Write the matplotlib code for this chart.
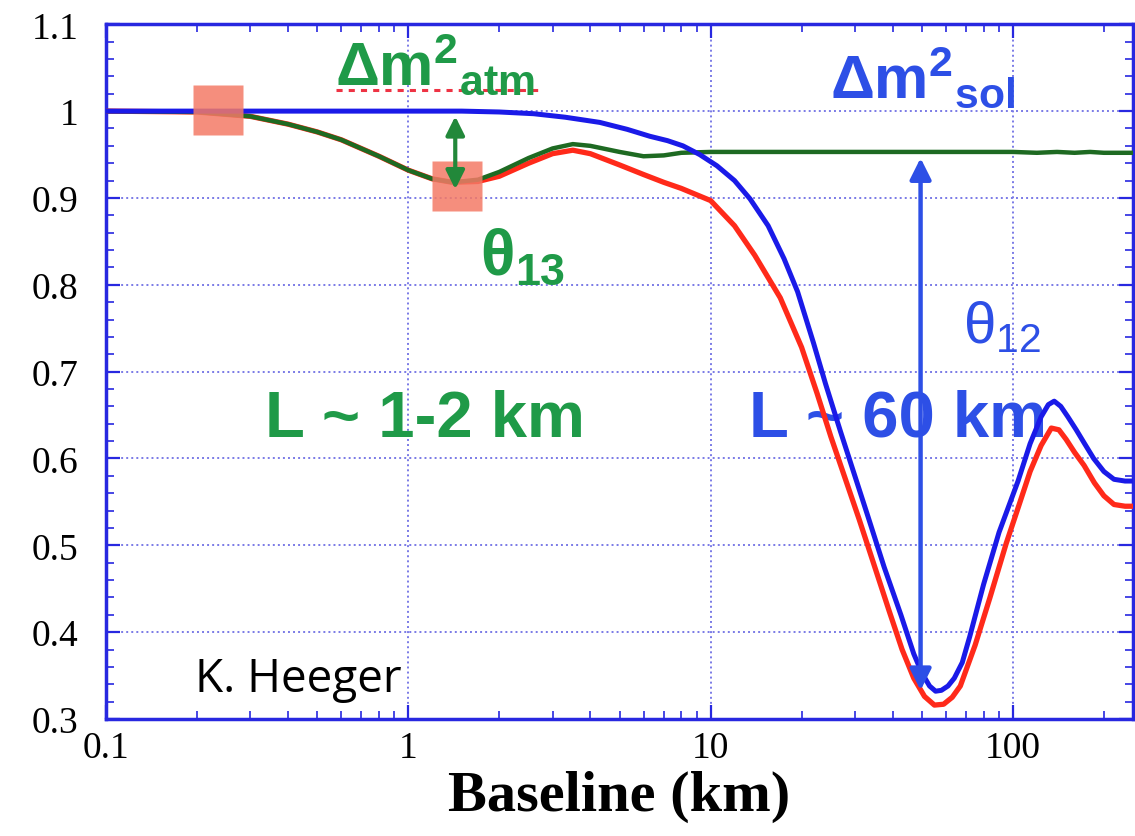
import matplotlib
matplotlib.use('Agg')
import matplotlib.pyplot as plt
from matplotlib.ticker import FixedLocator, LogLocator, NullFormatter, FixedFormatter

# survival probability curves
blue_km = [0.1, 0.5, 1.0, 1.5, 2.0, 2.6, 3.3, 4.3, 5.3, 6.3, 7.2, 8.1, 9.2, 10.5, 12.0,
           13.5, 15.5, 17.5, 19.4, 21.9, 24.0, 26.9, 30.0, 33.1, 37.5, 42.6, 47.0, 50.0,
           53.0, 55.5, 58.0, 61.0, 64.0, 68.0, 72.0, 80.0, 90.0, 104.0, 114.0, 124.0,
           131.0, 137.0, 144.0, 152.0, 162.0, 172.0, 185.0, 200.0, 216.0, 235.0, 250.0]
blue_p = [1.0, 1.0, 1.0, 1.0, 0.999, 0.997, 0.993, 0.987, 0.979, 0.971, 0.966, 0.96, 0.95,
          0.937, 0.92, 0.899, 0.868, 0.83, 0.792, 0.733, 0.686, 0.631, 0.58, 0.534, 0.475,
          0.42, 0.375, 0.353, 0.338, 0.332, 0.333, 0.338, 0.347, 0.365, 0.395, 0.455, 0.515,
          0.574, 0.617, 0.648, 0.662, 0.666, 0.66, 0.648, 0.633, 0.618, 0.6, 0.585, 0.576,
          0.574, 0.574]

red_km = [0.1, 0.2, 0.3, 0.4, 0.5, 0.6, 0.8, 1.0, 1.2, 1.4, 1.7, 2.0, 2.5, 3.0, 3.5, 4.0,
          5.0, 6.0, 7.0, 8.0, 10.0, 12.0, 14.0, 17.0, 20.0, 22.5, 25.0, 28.0, 31.0, 35.0,
          39.0, 43.0, 47.0, 51.0, 55.0, 59.0, 63.0, 67.0, 75.0, 84.0, 95.0, 104.0, 114.0,
          124.0, 134.0, 142.0, 150.0, 160.0, 172.0, 186.0, 200.0, 216.0, 235.0, 250.0]
red_p = [1.0, 0.999, 0.994, 0.985, 0.976, 0.967, 0.948, 0.932, 0.922, 0.918, 0.919, 0.925,
         0.94, 0.951, 0.955, 0.951, 0.938, 0.927, 0.918, 0.911, 0.897, 0.868, 0.834, 0.785,
         0.728, 0.675, 0.625, 0.575, 0.53, 0.474, 0.424, 0.38, 0.347, 0.326, 0.316, 0.317,
         0.325, 0.338, 0.385, 0.44, 0.502, 0.543, 0.585, 0.615, 0.635, 0.633, 0.622, 0.607,
         0.592, 0.572, 0.557, 0.547, 0.545, 0.545]

green_km = [0.1, 0.2, 0.3, 0.4, 0.5, 0.6, 0.8, 1.0, 1.2, 1.4, 1.7, 2.0, 2.5, 3.0, 3.5, 4.0,
            5.0, 6.0, 7.0, 8.0, 10.0, 15.0, 20.0, 30.0, 40.0, 50.0, 60.0, 70.0, 80.0,
            100.0, 120.0, 140.0, 160.0, 180.0, 200.0, 225.0, 250.0]
green_p = [1.0, 0.999, 0.994, 0.985, 0.976, 0.967, 0.948, 0.932, 0.922, 0.918, 0.921, 0.93,
           0.946, 0.957, 0.962, 0.96, 0.953, 0.948, 0.949, 0.952, 0.953, 0.953, 0.953,
           0.953, 0.953, 0.953, 0.953, 0.953, 0.953, 0.953, 0.952, 0.953, 0.952, 0.953,
           0.952, 0.952, 0.952]

y_ticks = [0.3, 0.4, 0.5, 0.6, 0.7, 0.8, 0.9, 1.0, 1.1]
y_labels = ['0.3', '0.4', '0.5', '0.6', '0.7', '0.8', '0.9', '1', '1.1']
x_ticks = [0.1, 1, 10, 100]
x_labels = ['0.1', '1', '10', '100']

# highlight squares and arrows
square_km = [0.235, 1.45]
square_p = [1.001, 0.914]
atm_arrow_km, atm_arrow_top, atm_arrow_bot = 1.43, 0.994, 0.910
sol_arrow_km, sol_arrow_top, sol_arrow_bot = 49.5, 0.946, 0.333

GREEN_TXT = '#1f9a48'
GREEN_LINE = '#1e6a22'
BLUE_LINE = '#1a1ae8'
BLUE_TXT = '#2d4fe6'
RED = '#ff2a1a'
AXIS_BLUE = '#2828e0'

plt.rcParams['mathtext.fontset'] = 'custom'
plt.rcParams['mathtext.rm'] = 'Liberation Sans'
plt.rcParams['mathtext.bf'] = 'Liberation Sans:bold'
plt.rcParams['mathtext.it'] = 'Liberation Sans:italic'

fig = plt.figure(figsize=(11.35, 8.37), dpi=100)
ax = fig.add_axes([0.0934, 0.1398, 0.905, 0.830])

ax.plot(red_km, red_p, color=RED, lw=3.8, zorder=3)
ax.plot(green_km, green_p, color=GREEN_LINE, lw=3.2, zorder=4)
ax.plot(blue_km, blue_p, color=BLUE_LINE, lw=3.6, zorder=5)

ax.set_xscale('log')
ax.set_xlim(0.1, 250)
ax.set_ylim(0.3, 1.1)

ax.xaxis.set_major_locator(FixedLocator(x_ticks))
ax.xaxis.set_major_formatter(FixedFormatter(x_labels))
ax.xaxis.set_minor_locator(LogLocator(base=10, subs=range(2, 10)))
ax.xaxis.set_minor_formatter(NullFormatter())
ax.yaxis.set_major_locator(FixedLocator(y_ticks))
ax.yaxis.set_major_formatter(FixedFormatter(y_labels))
ax.yaxis.set_minor_locator(FixedLocator([0.3 + 0.02 * i for i in range(41)]))

ax.tick_params(which='both', direction='in', colors=AXIS_BLUE, top=True, right=True,
               labelcolor='black', labelsize=27, labelfontfamily='Liberation Serif')
ax.tick_params(which='major', length=10, width=1.6)
ax.tick_params(which='minor', length=6, width=1.2)
ax.tick_params(axis='y', pad=20)
ax.tick_params(axis='x', pad=8)

for sp in ax.spines.values():
    sp.set_color(AXIS_BLUE)
    sp.set_linewidth(2.5)

ax.grid(True, which='major', color='#7a7ae6', ls=(0, (1, 1.6)), lw=1.4)

ax.set_xlabel('Baseline (km)', fontfamily='Liberation Serif', fontweight='bold',
              fontsize=42, labelpad=4)

# annotations
ax.plot(square_km, square_p, 's', ms=36, color='#f47a66', alpha=0.85, mec='none', zorder=6)

ax.annotate('', xy=(atm_arrow_km, atm_arrow_top), xytext=(atm_arrow_km, atm_arrow_bot),
            arrowprops=dict(arrowstyle='<|-|>', color='#22883a', lw=3.0,
                            mutation_scale=28, shrinkA=0, shrinkB=0), zorder=7)
ax.annotate('', xy=(sol_arrow_km, sol_arrow_top), xytext=(sol_arrow_km, sol_arrow_bot),
            arrowprops=dict(arrowstyle='<|-|>', color=BLUE_TXT, lw=3.2,
                            mutation_scale=32, shrinkA=0, shrinkB=0), zorder=7)

ax.text(0.573, 1.031, r'$\mathbf{\Delta m^2{}_{atm}}$', color=GREEN_TXT, fontsize=44,
        ha='left', va='baseline')
ax.plot([0.224, 0.423], [0.906, 0.906], transform=ax.transAxes, color='#ee3344',
        ls=(0, (2, 2)), lw=2.2)
ax.text(24.9, 1.016, r'$\mathbf{\Delta m^2{}_{sol}}$', color=BLUE_TXT, fontsize=44,
        ha='left', va='baseline')
ax.text(1.73, 0.813, r'$\mathbf{\theta_{13}}$', color=GREEN_TXT, fontsize=46,
        ha='left', va='baseline')
ax.text(68.2, 0.7345, r'$\mathrm{\theta_{12}}$', color=BLUE_TXT, fontsize=42,
        ha='left', va='baseline')
ax.text(0.336, 0.626, 'L ~ 1-2 km', color=GREEN_TXT, fontsize=47, fontweight='bold',
        fontfamily='Liberation Sans', ha='left', va='baseline', zorder=2)
ax.text(13.4, 0.626, 'L ~ 60 km', color=BLUE_TXT, fontsize=47, fontweight='bold',
        fontfamily='Liberation Sans', ha='left', va='baseline', zorder=2)
ax.text(0.197, 0.332, 'K. Heeger', color='black', fontsize=33, fontfamily='Open Sans',
        ha='left', va='baseline', zorder=8)

fig.savefig('out.png', dpi=100)
